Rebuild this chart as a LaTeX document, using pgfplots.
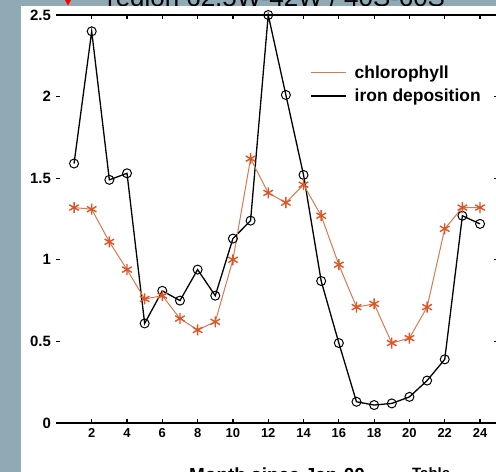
\documentclass[border=0pt]{standalone}
\usepackage{fontspec}
\setmainfont{Liberation Sans}
\usepackage{pgfplots}
\pgfplotsset{compat=1.18}
\definecolor{slate}{RGB}{143,170,180}
\definecolor{chlline}{RGB}{214,122,84}
\definecolor{chlmark}{RGB}{222,84,36}

% Monthly series, months since Jan-00
\pgfplotstableread{
m  v
1  1.32
2  1.31
3  1.11
4  0.94
5  0.76
6  0.78
7  0.64
8  0.57
9  0.62
10 1.00
11 1.62
12 1.41
13 1.35
14 1.46
15 1.27
16 0.97
17 0.71
18 0.73
19 0.49
20 0.52
21 0.71
22 1.19
23 1.32
24 1.32
}\chltable

\pgfplotstableread{
m  v
1  1.59
2  2.40
3  1.49
4  1.53
5  0.61
6  0.81
7  0.75
8  0.94
9  0.78
10 1.13
11 1.24
12 2.50
13 2.01
14 1.52
15 0.87
16 0.49
17 0.13
18 0.11
19 0.12
20 0.16
21 0.26
22 0.39
23 1.27
24 1.22
}\irontable

\begin{document}
\begin{tikzpicture}
\useasboundingbox (0bp,0bp) rectangle (496bp,472bp);
\clip (0bp,0bp) rectangle (496bp,472bp);
\fill[slate] (0bp,0bp) rectangle (496bp,472bp);
\node[anchor=base west, font=\fontsize{26}{30}\selectfont, inner sep=0pt]
  at (107bp,465.5bp) {region 62.5W-42W / 40S-60S};
\fill[white] (21bp,0bp) rectangle (496bp,466bp);
\fill[red] (65bp,472bp) -- (71bp,472bp) -- (68bp,466.5bp) -- cycle;
\node[anchor=north west, font=\fontsize{15}{17}\selectfont\bfseries, inner sep=0pt]
  at (412bp,4.5bp) {Table};

\begin{axis}[
  at={(56.4bp,49bp)}, anchor=south west,
  scale only axis, width=441.3bp, height=408bp,
  xmin=0, xmax=25, ymin=0, ymax=2.5,
  separate axis lines,
  x axis line style={line width=1.8bp},
  y axis line style={draw=none},
  xtick={2,4,...,24},
  ytick={0,0.5,1,1.5,2,2.5},
  yticklabels={0,0.5,1,1.5,2,2.5},
  tick align=inside,
  major tick length=4bp,
  tick style={black, line width=1.2bp},
  /pgf/number format/assume math mode=true,
  xticklabel style={yshift=-2bp, font=\fontsize{13}{15}\selectfont\bfseries},
  yticklabel style={xshift=-2bp, font=\fontsize{15}{17}\selectfont\bfseries},
  every axis x label/.style={at={(axis description cs:0.5,0)}, anchor=north,
    yshift=-45bp, inner sep=0pt, font=\fontsize{19}{21}\selectfont\bfseries},
  xlabel={Month since Jan-00},
  clip=false,
  legend image code/.code={\draw[#1] (0bp,0bp) -- (35bp,0bp);},
  legend cell align=left,
  legend style={at={(axis description cs:0.575,0.881)}, anchor=north west,
    draw=none, fill=none, inner sep=0pt, column sep=6bp, row sep=5bp,
    font=\fontsize{17.5}{19}\selectfont\bfseries},
]
\addlegendimage{chlline, line width=1.2bp}
\addlegendentry{chlorophyll}
\addlegendimage{black, line width=1.4bp}
\addlegendentry{iron deposition}

\addplot[forget plot, black, line width=1.3bp, mark=o, mark size=4.5bp,
  mark options={line width=1bp}] table[x=m, y=v] {\irontable};
\addplot[forget plot, chlline, line width=1bp, mark=asterisk, mark size=5.5bp,
  mark options={chlmark, line width=1.4bp}] table[x=m, y=v] {\chltable};
\end{axis}
\end{tikzpicture}
\end{document}
